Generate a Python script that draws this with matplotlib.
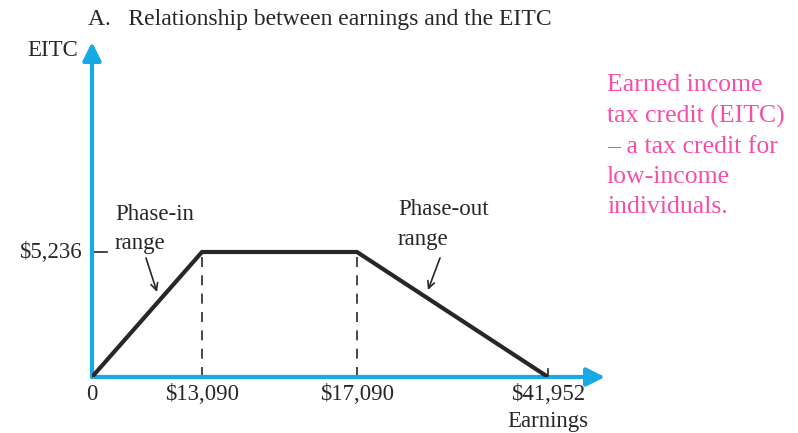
import numpy as np
import matplotlib.pyplot as plt

plt.rcParams['font.family'] = ['Liberation Serif', 'DejaVu Serif']

# kink points of the EITC schedule
earnings = [0, 13090, 17090, 41952]
credit = [0, 5236, 5236, 0]
x_tick_labels = ['0', '$13,090', '$17,090', '$41,952']
y_tick_value = 5236
y_tick_label = '$5,236'
note = 'Earned income\ntax credit (EITC)\n– a tax credit for\nlow-income\nindividuals.'

BLUE = '#16a9e4'
INK = '#2a2627'
PINK = '#f64fa9'

# the textbook figure is not drawn to scale: stretch each segment separately
brk = np.array([-23800, 0, 13090, 17090, 41952, 49400], dtype=float)
pos = np.array([-200, 0, 110, 265, 456, 513], dtype=float)


def fwd(x):
    x = np.asarray(x, dtype=float)
    return np.interp(x, brk, pos)


def inv(p):
    p = np.asarray(p, dtype=float)
    return np.interp(p, pos, brk)


W, H = 798, 433
fig = plt.figure(figsize=(W / 100, H / 100), dpi=100)
ax = fig.add_axes([92 / W, (H - 377) / H, (605 - 92) / W, (377 - 42) / H])
ax.set_xscale('function', functions=(fwd, inv))
ax.set_xlim(0, 49400)
ax.set_ylim(0, 5236 * 335 / 125)
ax.set_axis_off()
ax.patch.set_alpha(0)

# axes with arrow heads
head = '-|>,head_length=1.1,head_width=0.55'
ax.annotate('', xy=(1, 0), xytext=(0, 0), xycoords='axes fraction',
            arrowprops=dict(arrowstyle=head, color=BLUE, lw=3,
                            shrinkA=0, shrinkB=0))
ax.annotate('', xy=(0, 1), xytext=(0, 0), xycoords='axes fraction',
            arrowprops=dict(arrowstyle=head, color=BLUE, lw=3,
                            shrinkA=0, shrinkB=0))

# dashed guides at the plateau edges
for e, c in zip(earnings[1:3], credit[1:3]):
    ax.plot([e, e], [0, c], color=INK, lw=1.2, ls=(0, (6, 5)))

ax.plot(earnings, credit, color=INK, lw=3, solid_joinstyle='miter',
        solid_capstyle='butt', zorder=3)

# small tick marks
ax.plot([200, 1800], [y_tick_value, y_tick_value], color=INK, lw=1.2)
ax.plot([earnings[-1], earnings[-1]], [0, 340], color=INK, lw=1.2)

fs = 16.5
for e, lab in zip(earnings, x_tick_labels):
    ax.text(e, -750, lab, ha='center', va='center', fontsize=fs, color=INK)
ax.text(-1250, y_tick_value, y_tick_label, ha='right', va='center',
        fontsize=fs, color=INK)

ax.text(-1700, 5236 * 327 / 125, 'EITC', ha='right', va='center',
        fontsize=fs, color=INK)
ax.text(41900, -1860, 'Earnings', ha='center', va='center',
        fontsize=fs, color=INK)

ax.text(2737, 6200, 'Phase-in\nrange', ha='left', va='center', fontsize=fs,
        color=INK, linespacing=1.55)
ax.text(22427, 6400, 'Phase-out\nrange', ha='left', va='center', fontsize=fs,
        color=INK, linespacing=1.55)
ax.annotate('', xy=(7735, 3560), xytext=(6426, 4985),
            arrowprops=dict(arrowstyle='->,head_length=0.5,head_width=0.25',
                            color=INK, lw=1.2, shrinkA=0, shrinkB=0))
ax.annotate('', xy=(26332, 3644), xytext=(27894, 4985),
            arrowprops=dict(arrowstyle='->,head_length=0.5,head_width=0.25',
                            color=INK, lw=1.2, shrinkA=0, shrinkB=0))

fig.text(88 / W, 1 - 19 / H, 'A.   Relationship between earnings and the EITC',
         ha='left', va='center', fontsize=17, color=INK)
fig.text(607 / W, 1 - 74 / H, note, ha='left', va='top', fontsize=18.5,
         color=PINK, linespacing=1.48)

fig.savefig('out.png', dpi=100)
